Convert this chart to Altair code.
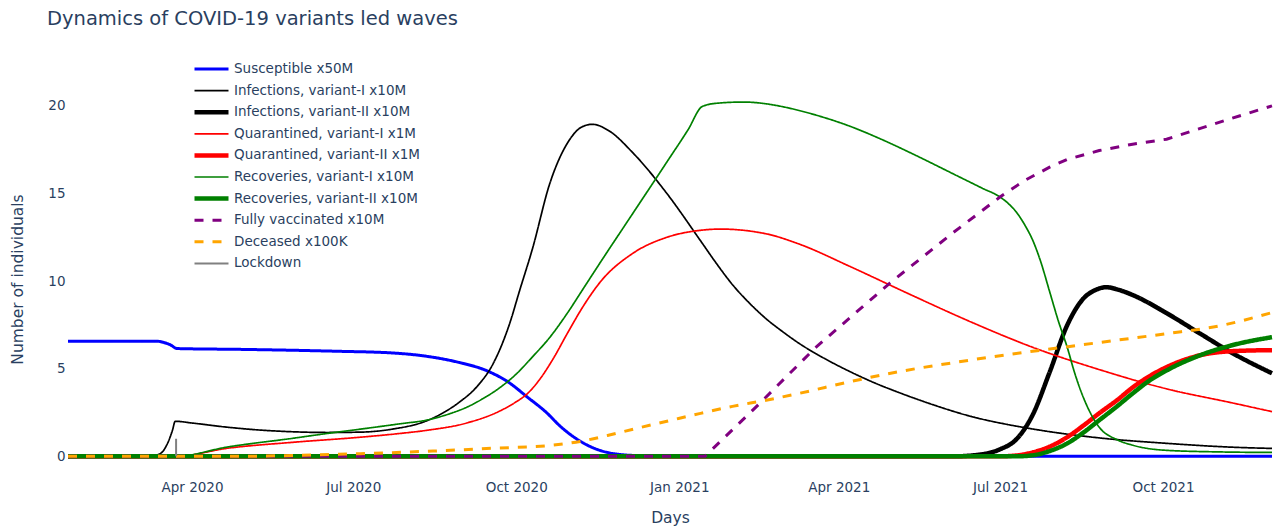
import altair as alt
import pandas as pd

# Day 0 of the simulation
START = pd.Timestamp("2020-01-22")

# Series names, in drawing / legend order
names = [
    "Susceptible x50M",
    "Infections, variant-I x10M",
    "Infections, variant-II x10M",
    "Quarantined, variant-I x1M",
    "Quarantined, variant-II x1M",
    "Recoveries, variant-I x10M",
    "Recoveries, variant-II x10M",
    "Fully vaccinated x10M",
    "Deceased x100K",
    "Lockdown",
]
colors = ["#0000ff", "#000000", "#000000", "#ff0000", "#ff0000",
          "#008000", "#008000", "#800080", "#ffa500", "#808080"]
widths = [3, 1.7, 4.5, 1.7, 4.5, 1.7, 4.5, 3, 3, 2]
dashes = [[1, 0]] * 7 + [[9, 9], [9, 9], [1, 0]]

# Model output (day index since START, scaled value)
sus_day = [0, 50, 54, 58, 61.5, 100, 150, 183, 203, 221, 236, 249, 259, 270, 278, 291, 304, 319, 340, 679.5]
sus_val = [6.57, 6.57, 6.5, 6.35, 6.15, 6.1, 6.0, 5.9, 5.7, 5.35, 4.9, 4.2, 3.4, 2.5, 1.7, 0.75, 0.23, 0.05, 0, 0]

inf1_day = [0, 46, 52, 56, 59, 60.5, 70, 90, 108, 127, 146, 165, 183, 203, 212, 221, 231, 240, 249, 255,
            262, 272, 282, 290, 296, 305, 319, 338, 357, 366, 375, 385, 394, 403.5, 413, 427, 441, 455, 470,
            488, 507, 545, 582, 620, 657, 679.5]
inf1_val = [0, 0, 0.15, 0.7, 1.5, 2.0, 1.9, 1.66, 1.5, 1.4, 1.36, 1.38, 1.55, 2.05, 2.5, 3.1, 4.0, 5.3, 7.5, 9.5,
            11.8, 15.6, 17.9, 18.8, 18.95, 18.6, 17.3, 15.0, 12.3, 11.0, 9.8, 8.7, 7.85, 7.1, 6.42, 5.58, 4.85, 4.2, 3.6,
            2.95, 2.35, 1.55, 1.05, 0.74, 0.52, 0.45]

inf2_day = [0, 500, 516, 526, 535.5, 544.6, 554, 564, 573, 580, 586, 593, 601, 620, 639, 657, 679.5]
inf2_val = [0, 0, 0.12, 0.4, 1.0, 2.4, 4.8, 7.5, 9.0, 9.5, 9.65, 9.5, 9.2, 8.17, 7.0, 5.9, 4.74]

quar1_day = [0, 61, 90, 127, 165, 187, 203, 225, 244, 252, 259.5, 267, 274, 282, 291, 300, 319, 338, 357, 368,
             394, 413, 441, 475, 510, 545, 582, 620, 657, 679.5]
quar1_val = [0, 0, 0.46, 0.8, 1.09, 1.3, 1.49, 1.9, 2.6, 3.05, 3.6, 4.5, 5.6, 7.05, 8.6, 9.9, 11.6, 12.5, 12.9, 12.97,
             12.7, 12.1, 10.85, 9.25, 7.65, 6.2, 4.95, 3.85, 3.05, 2.55]

quar2_day = [0, 526, 535.5, 544.6, 554, 564, 573, 582, 592, 601, 610, 620, 639, 657, 679.5]
quar2_val = [0, 0, 0.05, 0.23, 0.55, 1.1, 1.75, 2.46, 3.2, 3.94, 4.55, 5.09, 5.77, 6.0, 6.06]

rec1_day = [0, 61, 90, 127, 146, 165, 187, 203, 216, 225, 234, 244, 253, 262, 272, 282, 291, 300, 319, 338, 350,
            358, 366, 381, 394, 403.5, 423, 441, 460, 479, 498, 516, 526, 531, 535.5, 540, 544.6, 549, 554, 559, 564,
            568, 573, 582, 592, 601, 620, 650, 679.5]
rec1_val = [0, 0, 0.53, 1.03, 1.3, 1.55, 1.85, 2.08, 2.45, 2.8, 3.28, 3.94, 4.7, 5.66, 6.8, 8.2, 9.6, 11.0, 13.9, 16.8, 18.65,
            19.97, 20.15, 20.22, 20.12, 19.95, 19.45, 18.85, 18.05, 17.15, 16.2, 15.3, 14.8, 14.4, 13.9, 13.2, 12.3, 11.1,
            9.4, 7.7, 6.2, 4.8, 3.37, 1.66, 0.95, 0.63, 0.34, 0.25, 0.22]

rec2_day = [0, 535.5, 544.6, 554, 564, 573, 582, 592, 601, 610, 620, 639, 657, 679.5]
rec2_val = [0, 0, 0.06, 0.3, 0.74, 1.35, 2.06, 2.85, 3.6, 4.3, 4.9, 5.77, 6.34, 6.8]

vacc_day = [0, 359.5, 390.5, 421.5, 464, 500, 526, 540, 554, 564, 582, 600, 620, 657, 679.5]
vacc_val = [0, 0, 3.03, 6.17, 9.9, 12.8, 14.8, 15.75, 16.5, 16.95, 17.45, 17.8, 18.1, 19.3, 20.0]

dead_day = [0, 100, 127, 165, 206, 240, 272, 289, 305, 319, 338, 357, 375, 394, 413, 441, 470,
            500, 530, 560, 590, 620, 650, 679.5]
dead_val = [0, 0, 0.05, 0.15, 0.3, 0.46, 0.62, 0.85, 1.2, 1.55, 2.0, 2.45, 2.85, 3.2, 3.6, 4.25, 4.85,
            5.35, 5.8, 6.2, 6.6, 7.0, 7.45, 8.2]

lock_day = [61, 61]
lock_val = [0, 1]

series = [
    (sus_day, sus_val, "monotone"),
    (inf1_day, inf1_val, "monotone"),
    (inf2_day, inf2_val, "monotone"),
    (quar1_day, quar1_val, "monotone"),
    (quar2_day, quar2_val, "monotone"),
    (rec1_day, rec1_val, "monotone"),
    (rec2_day, rec2_val, "monotone"),
    (vacc_day, vacc_val, "linear"),
    (dead_day, dead_val, "monotone"),
    (lock_day, lock_val, "linear"),
]

TEXT = "#2a3f5f"
FONT = "DejaVu Sans"

legend = alt.Legend(
    title=None, orient="none", legendX=124, legendY=-25, padding=0,
    symbolType="stroke", symbolSize=1156, symbolStrokeColor=None,
    labelFont=FONT, labelFontSize=13.5, labelColor=TEXT, labelOffset=3,
    clipHeight=20, rowPadding=1.6, labelLimit=400,
)

x_enc = alt.X(
    "date:T",
    title="Days",
    scale=alt.Scale(nice=False),
    axis=alt.Axis(
        values=[alt.DateTime(year=y, month=m, date=1) for y, m in
                [(2020, 4), (2020, 7), (2020, 10), (2021, 1), (2021, 4), (2021, 7), (2021, 10)]],
        format="%b %Y", labelPadding=6, titlePadding=17,
    ),
)
y_enc = alt.Y(
    "value:Q",
    title="Number of individuals",
    scale=alt.Scale(domain=[-1.01, 21.25], nice=False, zero=False),
    axis=alt.Axis(values=[0, 5, 10, 15, 20], labelPadding=3, titlePadding=22),
)

layers = []
for name, (days, vals, interp) in zip(names, series):
    df = pd.DataFrame({
        "date": START + pd.to_timedelta(days, unit="D"),
        "value": vals,
        "series": name,
    })
    layers.append(
        alt.Chart(df).mark_line(interpolate=interp).encode(
            x=x_enc,
            y=y_enc,
            color=alt.Color("series:N", scale=alt.Scale(domain=names, range=colors), legend=legend),
            strokeDash=alt.StrokeDash("series:N", scale=alt.Scale(domain=names, range=dashes), legend=legend),
            strokeWidth=alt.StrokeWidth("series:N", scale=alt.Scale(type="ordinal", domain=names, range=widths),
                                        legend=legend),
        )
    )

chart = (
    alt.layer(*layers)
    .properties(
        width=1204,
        height=390,
        autosize=alt.AutoSizeParams(type="none"),
        padding={"left": 68, "top": 84, "right": 14, "bottom": 52},
        background="white",
        title=alt.TitleParams(
            "Dynamics of COVID-19 variants led waves",
            anchor="start", frame="group", dx=-21, offset=30,
            font=FONT, fontSize=19.5, fontWeight="normal", color=TEXT,
        ),
    )
    .configure_view(stroke=None)
    .configure_axis(
        grid=False, domain=False, ticks=False,
        labelFont=FONT, labelFontSize=13.5, labelColor=TEXT,
        titleFont=FONT, titleFontSize=15.5, titleFontWeight="normal", titleColor=TEXT,
    )
)

chart.save("out.html", embed_options={"renderer": "svg", "actions": False})
